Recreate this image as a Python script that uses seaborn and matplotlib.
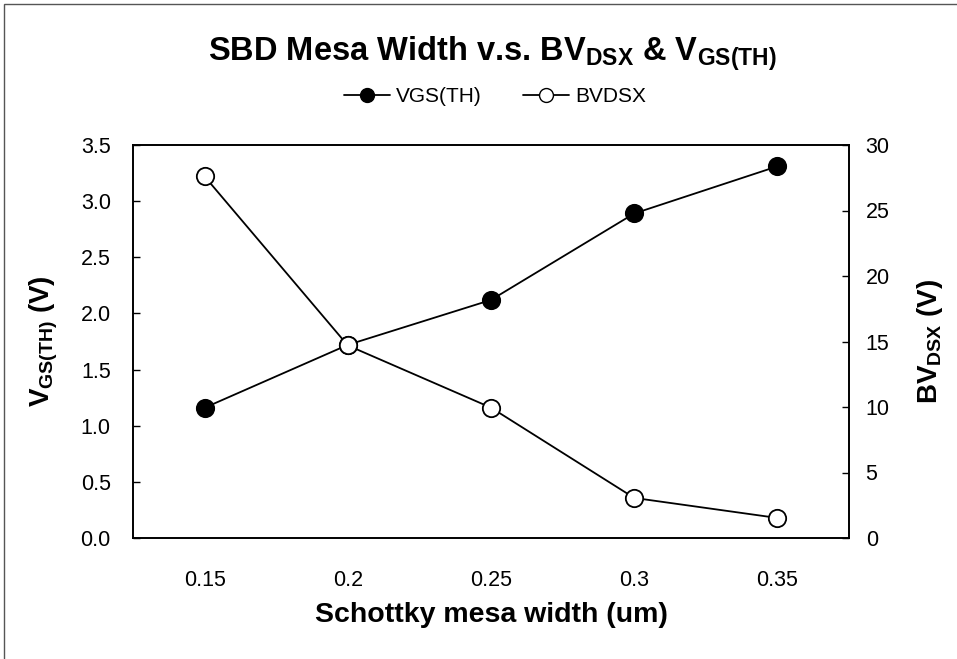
import numpy as np
import pandas as pd
import matplotlib
matplotlib.use("Agg")
import matplotlib.pyplot as plt
from matplotlib.patches import Rectangle
from matplotlib.lines import Line2D
import seaborn as sns

# Data
widths = ["0.15", "0.2", "0.25", "0.3", "0.35"]
vgs_th = [1.16, 1.72, 2.12, 2.89, 3.31]
bvdsx = [27.6, 14.7, 9.95, 3.06, 1.53]

sns.set_theme(style="white")
plt.rcParams["font.family"] = ["Liberation Sans", "DejaVu Sans"]
plt.rcParams["mathtext.fontset"] = "custom"
plt.rcParams["mathtext.rm"] = "Liberation Sans"
plt.rcParams["mathtext.bf"] = "Liberation Sans:bold"
plt.rcParams["text.color"] = "black"
plt.rcParams["axes.labelcolor"] = "black"

W, H = 957, 659
fig = plt.figure(figsize=(W / 100, H / 100), dpi=100)
fig.patch.set_facecolor("white")

# plot area in pixel coordinates
x0, x1, y0, y1 = 133, 849, 145, 538
ax = fig.add_axes([x0 / W, 1 - y1 / H, (x1 - x0) / W, (y1 - y0) / H])
ax2 = ax.twinx()

pos = np.arange(len(widths))
df = pd.DataFrame({"pos": pos, "vgs": vgs_th, "bv": bvdsx})

line_kw = dict(color="black", linewidth=1.3, markersize=12.5, marker="o",
               markeredgecolor="black", markeredgewidth=1.3)
sns.lineplot(data=df, x="pos", y="vgs", ax=ax, markerfacecolor="black", **line_kw)
sns.lineplot(data=df, x="pos", y="bv", ax=ax2, markerfacecolor="white", **line_kw)

ax.set_xlim(-0.5, len(widths) - 0.5)
ax.set_ylim(0, 3.5)
ax2.set_ylim(0, 30)
ax.set_yticks(np.arange(0, 3.51, 0.5))
ax.set_yticklabels([f"{v:.1f}" for v in np.arange(0, 3.51, 0.5)])
ax2.set_yticks(np.arange(0, 31, 5))
ax2.set_yticklabels([str(v) for v in range(0, 31, 5)])

ax.set_xticks(pos)
ax.set_xticklabels(widths)
ax.set_xticks(np.arange(0.5, len(widths) - 0.5, 1.0), minor=True)

tick_fs = 15.5
ax.tick_params(axis="x", which="major", length=0, pad=23, labelsize=tick_fs, colors="black")
ax.tick_params(axis="x", which="minor", direction="in", length=5, width=1, color="black")
ax.tick_params(axis="y", direction="in", length=5, width=1, pad=16, labelsize=tick_fs,
               colors="black", left=True)
ax2.tick_params(axis="y", direction="in", length=5, width=1, pad=12, labelsize=tick_fs,
                colors="black", right=True)

for a in (ax, ax2):
    for s in a.spines.values():
        s.set_visible(True)
        s.set_color("black")
        s.set_linewidth(1.2)
    a.grid(False)

ax.set_xlabel("Schottky mesa width (um)", fontsize=20.5, fontweight="bold", labelpad=8)
ax.set_ylabel(r"V$_{\mathbf{GS(TH)}}$ (V)", fontsize=20, fontweight="bold", labelpad=15)
ax2.set_ylabel(r"BV$_{\mathbf{DSX}}$ (V)", fontsize=20, fontweight="bold", labelpad=18)

fig.text(492 / W, 1 - 54 / H,
         r"SBD Mesa Width v.s. BV$_{\mathbf{DSX}}$ & V$_{\mathbf{GS(TH)}}$",
         fontsize=23.5, fontweight="bold", ha="center", va="center")

handles = [
    Line2D([], [], color="black", linewidth=1.3, marker="o", markersize=10,
           markerfacecolor="black", markeredgecolor="black"),
    Line2D([], [], color="black", linewidth=1.3, marker="o", markersize=10,
           markerfacecolor="white", markeredgecolor="black"),
]
fig.legend(handles, ["VGS(TH)", "BVDSX"], loc="center", ncol=2,
           bbox_to_anchor=(495 / W, 1 - 97 / H), frameon=False, fontsize=15,
           handlelength=2.2, handletextpad=0.3, columnspacing=2.0)

# chart-area border
fig.add_artist(Rectangle((4 / W, -0.1), 1.2, 1.1 - 4 / H, transform=fig.transFigure,
                         fill=False, edgecolor="#555555", linewidth=1.0))

fig.savefig("out.png", dpi=100)
